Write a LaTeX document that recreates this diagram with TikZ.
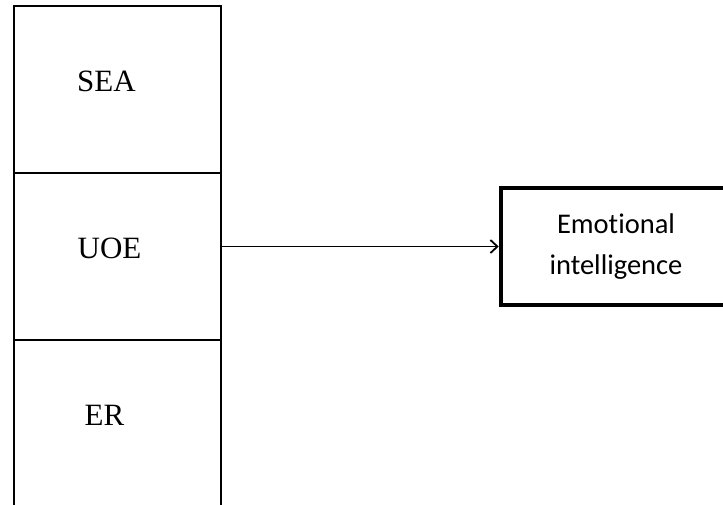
\documentclass[tikz,border=0pt]{standalone}
\usepackage{fontspec}
\setmainfont{Liberation Serif}
\newfontfamily\calib[Ligatures=NoCommon,Contextuals=NoAlternate]{Carlito}
\usetikzlibrary{arrows.meta}
\tikzset{
  colbox/.style={draw=black, line width=2.2pt, minimum width=207pt, minimum height=167pt, inner sep=0pt, outer sep=0pt},
  collabel/.style={font=\fontsize{31}{36}\selectfont, inner sep=0pt},
  eibox/.style={draw=black, line width=4.5pt, minimum width=230pt, minimum height=117pt, align=center,
    font=\calib\fontsize{28.5}{41}\selectfont, inner sep=0pt},
  link/.style={draw=black, line width=1.5pt, -{Straight Barb[length=7pt,width=13pt,line width=1.8pt]}}
}
\begin{document}
\begin{tikzpicture}[x=1pt,y=-1pt]
\useasboundingbox (0,0) rectangle (723,504);
\clip (0,0) rectangle (723,504);
\fill[white] (0,0) rectangle (723,504);
\node[colbox] (sea) at (117.5,89.5) {};
\node[colbox] (uoe) at (117.5,256.5) {};
\node[colbox] (er) at (117.5,423.5) {};
\node[collabel] (sealab) at (106.5,81) {SEA};
\node[collabel] (uoelab) at (109.5,248) {UOE};
\node[collabel] (erlab) at (104.5,415) {ER};
\node[eibox] (ei) at (616,246.5) {Emotional\\intelligence};
\draw[link] (uoe.east |- ei.west) -- (ei.west);
\end{tikzpicture}
\end{document}
